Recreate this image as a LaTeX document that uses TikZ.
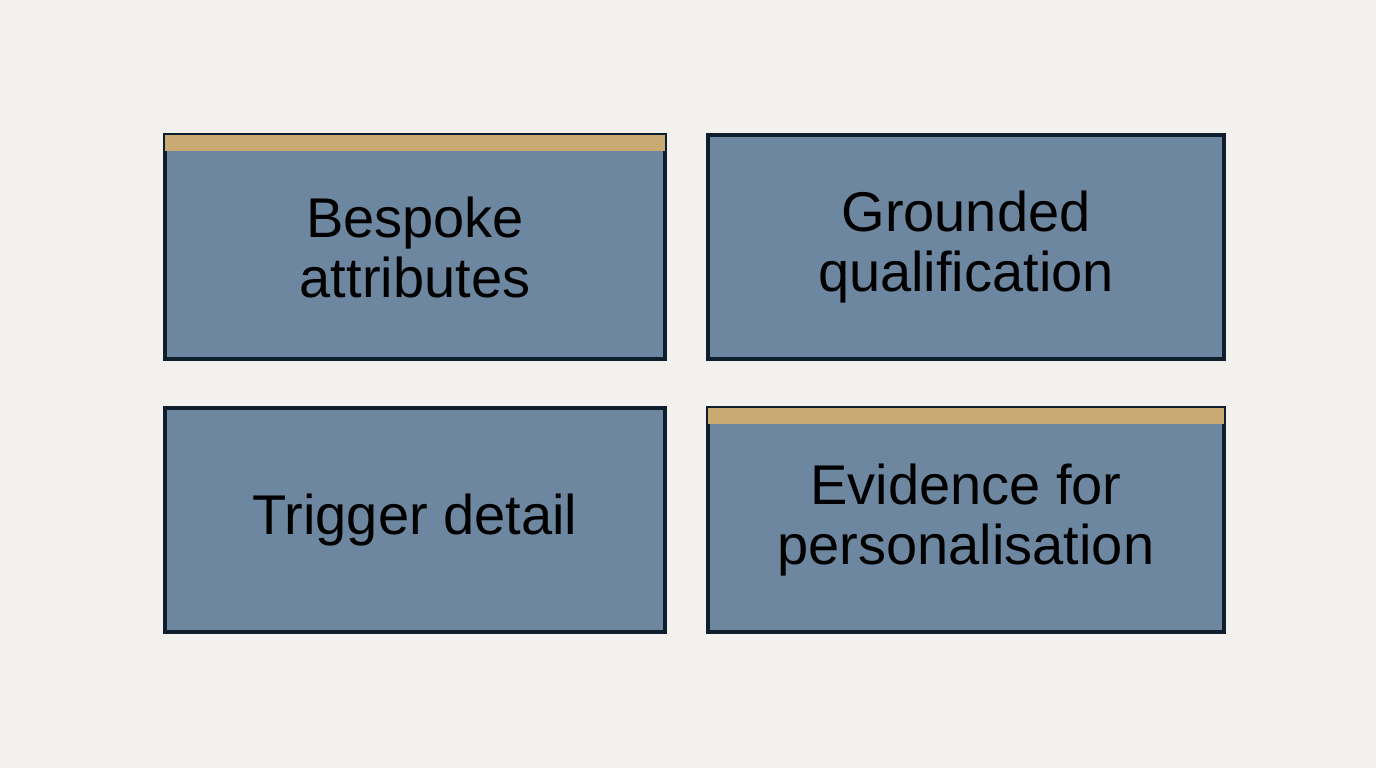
\documentclass[tikz,border=0pt]{standalone}
\usepackage{fontspec}
\setmainfont{Liberation Sans}
\definecolor{bg}{HTML}{F2F1EE}
\definecolor{boxfill}{HTML}{6E87A0}
\definecolor{boxline}{HTML}{0F1E2D}
\definecolor{gold}{HTML}{C8AA72}
\begin{document}
\begin{tikzpicture}[x=0.75pt,y=-0.75pt,
  box/.style={draw=boxline,line width=2.6pt,fill=boxfill,minimum width=#1*0.75pt,minimum height=224*0.75pt,inner sep=0pt,
    align=center,font=\fontsize{42}{45}\selectfont,text=black},
  bar/.style={fill=gold}]
\useasboundingbox[fill=bg] (0,0) rectangle (1376,768);
\node[box=500] (a) at (415,247) {Bespoke\\attributes};
\node[box=516] (b) at (966,247) {Grounded\\qualification};
\node[box=500] (c) at (415,520) {Trigger detail};
\node[box=516] (d) at (966,520) {Evidence for\\personalisation};
\fill[bar] ([xshift=1.3pt,yshift=-1.3pt]a.north west) rectangle ([xshift=-1.3pt,yshift=-13pt]a.north east);
\fill[bar] ([xshift=1.3pt,yshift=-1.3pt]d.north west) rectangle ([xshift=-1.3pt,yshift=-13pt]d.north east);
\end{tikzpicture}
\end{document}
